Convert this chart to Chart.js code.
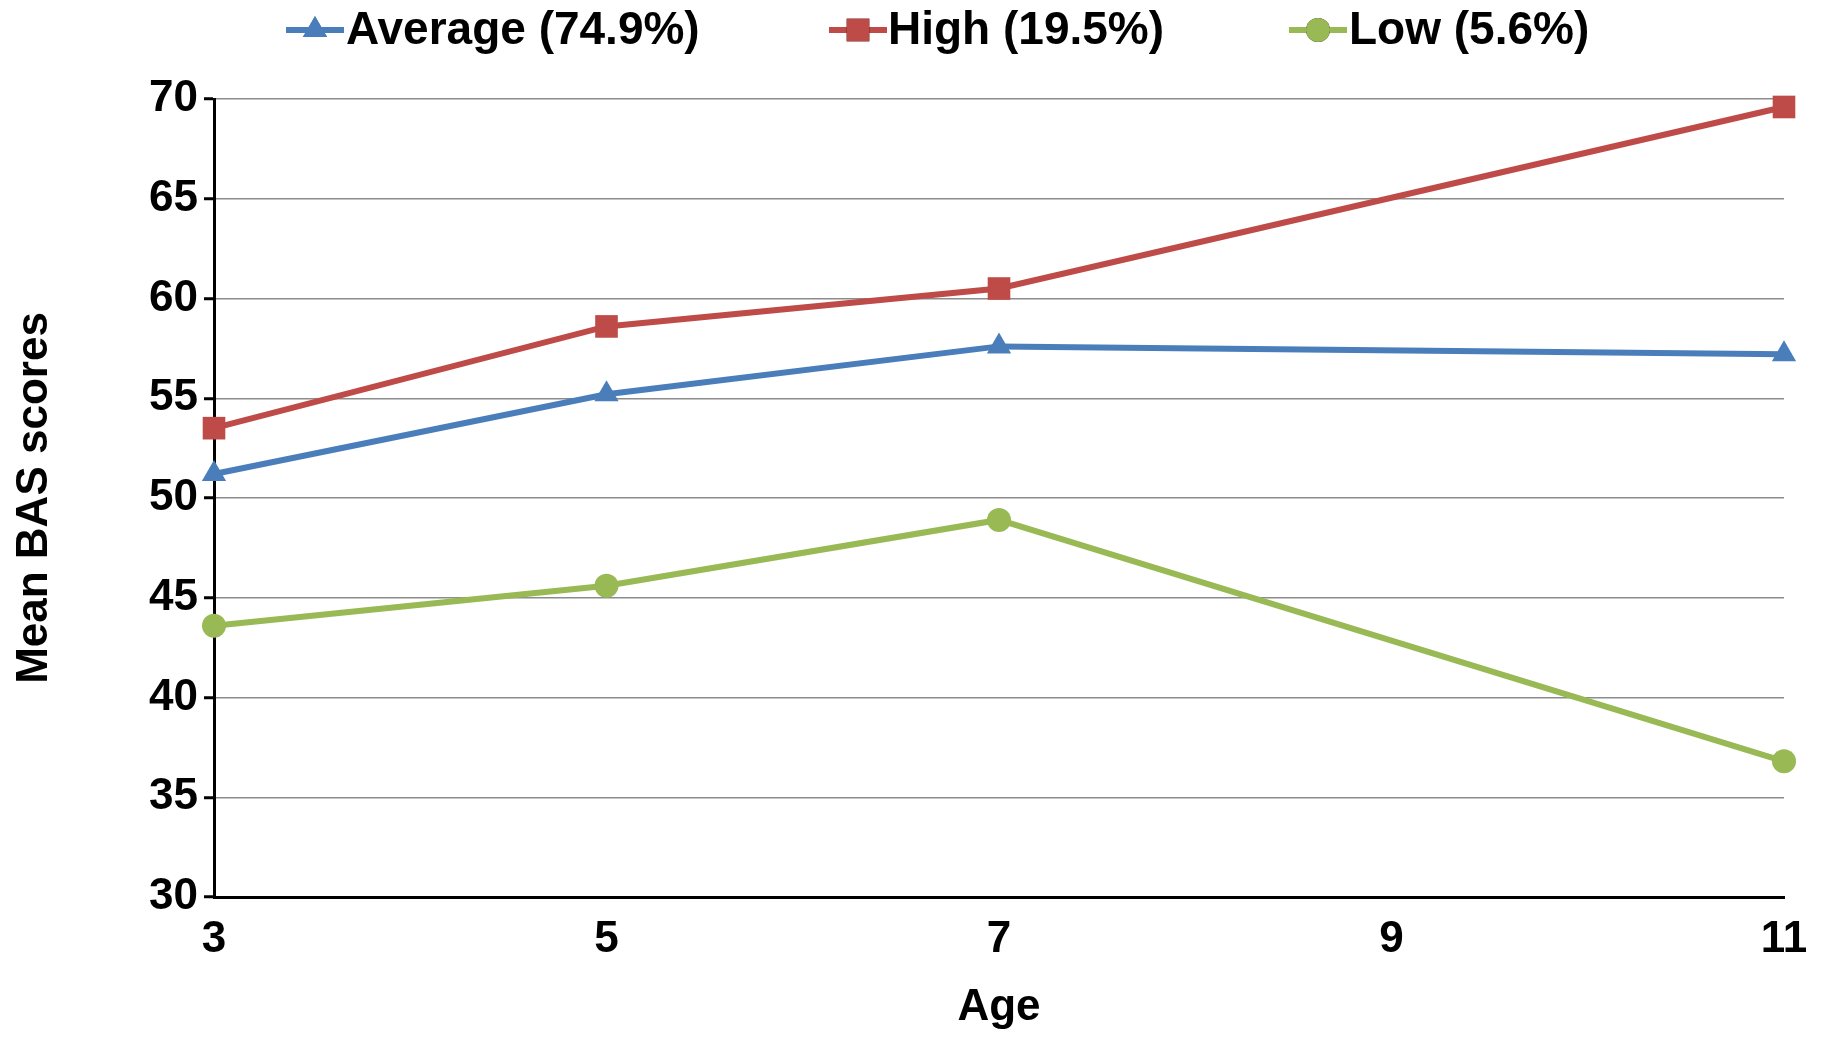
<!DOCTYPE html>
<html><head><script src="https://cdn.jsdelivr.net/npm/chart.js@4"></script>
<style>html,body{margin:0;padding:0;background:#fff}#w{width:1821px;height:1038px}</style></head>
<body><div id="w"><canvas id="c"></canvas></div>
<script>
const ages=[3,5,7,11];
const average=[51.2,55.2,57.6,57.2];
const high=[53.5,58.6,60.5,69.6];
const low=[43.6,45.6,48.9,36.8];
const labels=['Average (74.9%)','High (19.5%)','Low (5.6%)'];
const yTicks=[30,35,40,45,50,55,60,65,70];
const xTicks=[3,5,7,9,11];
const font={family:'Liberation Sans, Arial, sans-serif',weight:'bold',size:44};
const radii={triangle:14,rect:16,circle:12};
const mk=(d,i,color,ps)=>({label:labels[i],data:ages.map((a,j)=>({x:a,y:d[j]})),borderColor:color,backgroundColor:color,borderWidth:6,pointStyle:ps,pointRadius:radii[ps],pointBorderWidth:0,clip:false});
const legendPos=[{l:286,t:346},{l:829,t:888},{l:1289,t:1349}];
const legendPlugin={id:'lg',afterDraw(ch){const c=ch.ctx;c.save();ch.data.datasets.forEach((ds,i)=>{const p=legendPos[i];const y=30;c.strokeStyle=ds.borderColor;c.lineWidth=6;c.beginPath();c.moveTo(p.l,y);c.lineTo(p.l+58,y);c.stroke();Chart.helpers.drawPoint(c,{pointStyle:ds.pointStyle,radius:ds.pointRadius,borderWidth:0},p.l+29,y);c.fillStyle=ds.borderColor;c.fill();c.fillStyle='#000';c.font='bold 46px Liberation Sans, Arial, sans-serif';c.textBaseline='middle';c.fillText(ds.label,p.t,y+1);});c.restore();}};
new Chart(document.getElementById('c'),{type:'line',
data:{datasets:[mk(average,0,'#4a7ebb','triangle'),mk(high,1,'#be4b48','rect'),mk(low,2,'#98b954','circle')]},
options:{responsive:true,maintainAspectRatio:false,animation:false,
layout:{padding:{top:99,right:37,left:0,bottom:0}},
plugins:{legend:{display:false},tooltip:{enabled:false}},
scales:{
x:{type:'linear',min:3,max:11,afterBuildTicks(a){a.ticks=xTicks.map(v=>({value:v}));},afterFit(a){a.height=141;},
 grid:{display:false,drawOnChartArea:false,tickLength:10,tickColor:'#000',tickWidth:3},border:{color:'#000',width:3},
 ticks:{color:'#000',font,padding:6,maxRotation:0},title:{display:true,text:'Age',color:'#000',font,padding:{top:10}}},
y:{min:30,max:70,afterBuildTicks(a){a.ticks=yTicks.map(v=>({value:v}));},afterFit(a){a.width=214;},
 grid:{color:'#8c8c8c',lineWidth:1.5,tickLength:10,tickColor:'#000',tickWidth:3},border:{color:'#000',width:3},
 ticks:{color:'#000',font,padding:6},title:{display:true,text:'Mean BAS scores',color:'#000',font,padding:{top:8,bottom:4}}}
}},plugins:[legendPlugin]});
</script></body></html>
